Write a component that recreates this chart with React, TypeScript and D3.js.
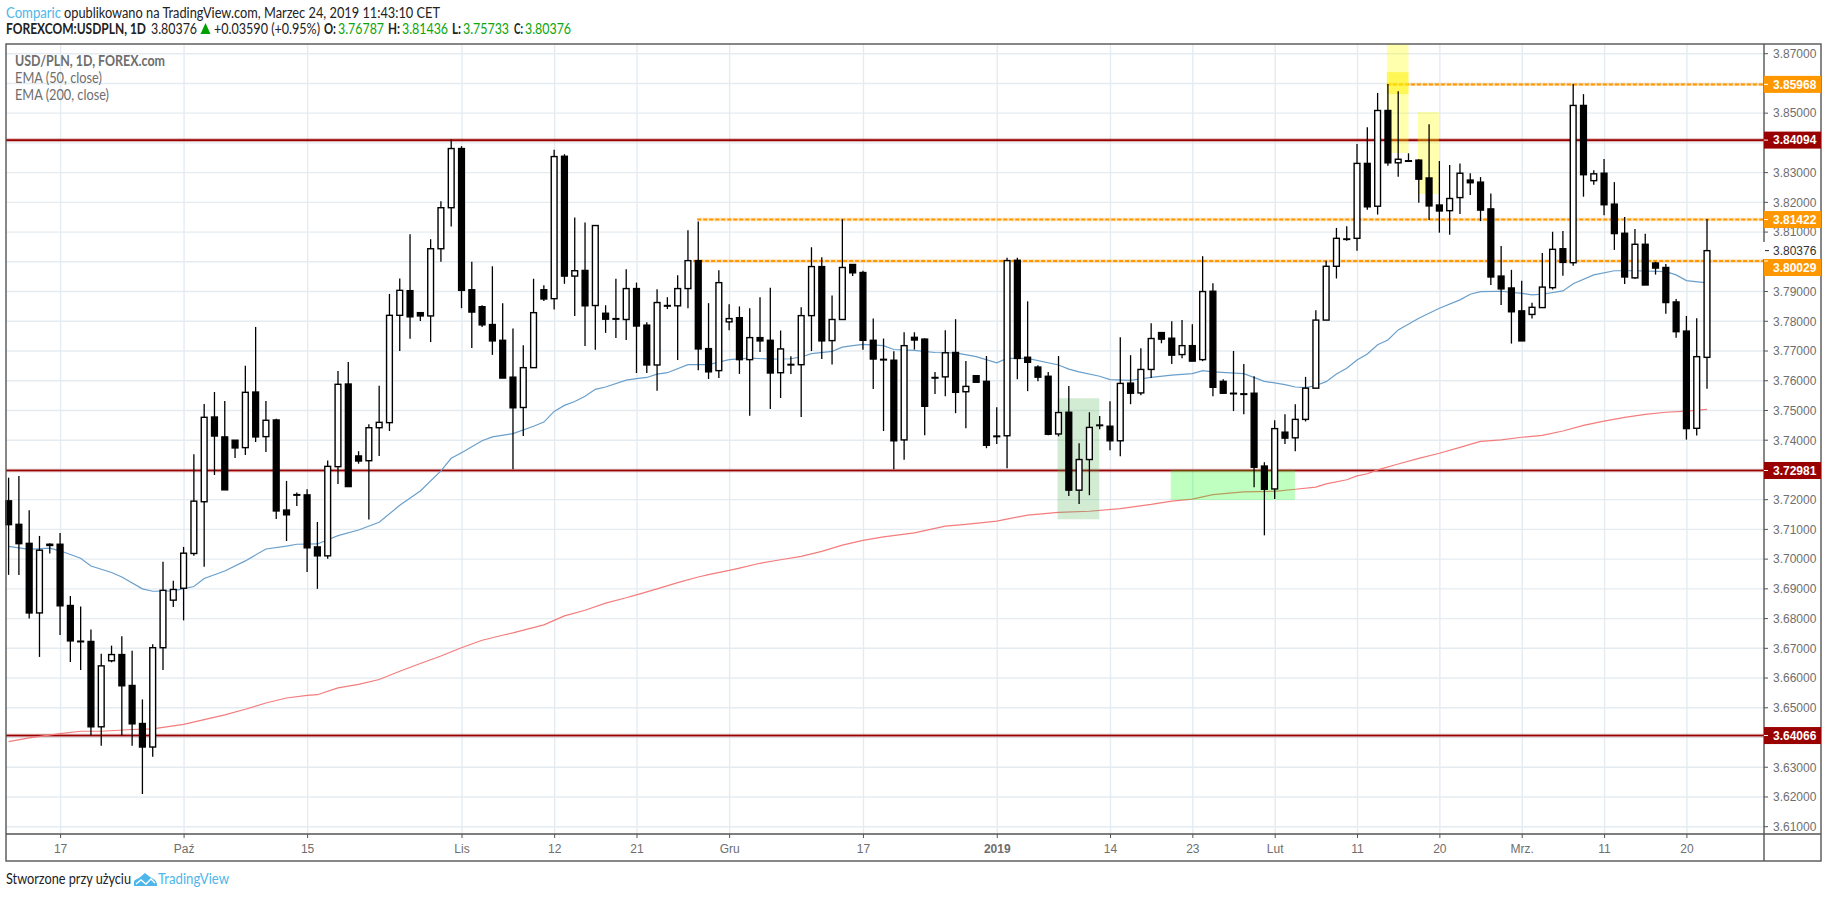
import React from "react";
import * as d3 from "d3";

// Daily USD/PLN candles
const opens = [3.7196,3.7117,3.7053,3.6819,3.7050,3.7050,3.6844,3.6724,3.6723,3.6436,3.6658,3.6679,3.6575,3.6447,3.6368,3.6702,3.6862,3.6902,3.7019,3.7193,3.7478,3.7411,3.7400,3.7375,3.7562,3.7412,3.7468,3.7165,3.7217,3.7216,3.7041,3.7011,3.7311,3.7589,3.7347,3.7331,3.7442,3.7459,3.7820,3.7903,3.7829,3.7818,3.8044,3.8182,3.8381,3.7906,3.7849,3.7789,3.7736,3.7612,3.7510,3.7644,3.7906,3.7876,3.8355,3.7952,3.7971,3.7853,3.7827,3.7809,3.7806,3.7910,3.7787,3.7653,3.7853,3.7852,3.7910,3.8004,3.7708,3.7634,3.7798,3.7812,3.7671,3.7745,3.7736,3.7627,3.7655,3.7654,3.7819,3.7984,3.7735,3.7806,3.7991,3.7964,3.7736,3.7672,3.7669,3.7401,3.7746,3.7740,3.7611,3.7613,3.7695,3.7563,3.7617,3.7598,3.7414,3.7415,3.8005,3.7679,3.7646,3.7615,3.7421,3.7494,3.7232,3.7335,3.7451,3.7447,3.7398,3.7592,3.7559,3.7638,3.7762,3.7743,3.7688,3.7718,3.7671,3.7901,3.7598,3.7558,3.7556,3.7558,3.7313,3.7236,3.7427,3.7408,3.7470,3.7575,3.7804,3.7985,3.8077,3.8079,3.8331,3.8187,3.8509,3.8333,3.8340,3.8342,3.8282,3.8191,3.8172,3.8216,3.8275,3.8268,3.8178,3.7952,3.7912,3.7835,3.7823,3.7846,3.7913,3.8044,3.7997,3.8526,3.8273,3.8298,3.8194,3.8096,3.7946,3.8059,3.7996,3.7981,3.7865,3.7767,3.7440,3.76787];
const highs = [3.7274,3.7280,3.7164,3.7078,3.7053,3.7088,3.6876,3.6841,3.6763,3.6682,3.6709,3.6741,3.6692,3.6528,3.6714,3.6991,3.6927,3.7041,3.7353,3.7522,3.7562,3.7532,3.7400,3.7650,3.7781,3.7532,3.7472,3.7263,3.7224,3.7235,3.7125,3.7332,3.7633,3.7663,3.7363,3.7454,3.7583,3.7892,3.7944,3.8093,3.7829,3.8076,3.8204,3.8411,3.8389,3.8000,3.7854,3.7985,3.7861,3.7776,3.7719,3.7943,3.7921,3.8377,3.8362,3.8149,3.8132,3.8122,3.7854,3.7943,3.7975,3.7930,3.7797,3.7908,3.7881,3.7955,3.8106,3.8136,3.7861,3.7972,3.7857,3.7850,3.7844,3.7881,3.7913,3.7769,3.7682,3.7847,3.8049,3.8015,3.7887,3.8143,3.7991,3.7970,3.7809,3.7742,3.7699,3.7763,3.7763,3.7743,3.7629,3.7770,3.7807,3.7666,3.7617,3.7683,3.7511,3.8014,3.8014,3.7867,3.7652,3.7629,3.7683,3.7582,3.7390,3.7494,3.7481,3.7531,3.7746,3.7686,3.7709,3.7793,3.7762,3.7800,3.7804,3.7790,3.8019,3.7928,3.7605,3.7700,3.7656,3.7615,3.7326,3.7467,3.7487,3.7521,3.7613,3.7837,3.8004,3.8114,3.8120,3.8396,3.8453,3.8568,3.8598,3.8574,3.8365,3.8345,3.8463,3.8339,3.8326,3.8331,3.8298,3.8285,3.8230,3.8053,3.7973,3.7936,3.7862,3.8030,3.8101,3.8104,3.8598,3.8564,3.8308,3.8346,3.8268,3.8151,3.8110,3.8094,3.8000,3.7993,3.7875,3.7818,3.7810,3.81436];
const lows = [3.6947,3.6947,3.6800,3.6671,3.7019,3.6745,3.6654,3.6627,3.6407,3.6372,3.6653,3.6407,3.6372,3.6210,3.6335,3.6627,3.6839,3.6794,3.7011,3.6974,3.7283,3.7233,3.7340,3.7350,3.7394,3.7360,3.7135,3.7061,3.7179,3.6957,3.6900,3.7001,3.7253,3.7244,3.7321,3.7133,3.7347,3.7431,3.7700,3.7741,3.7801,3.7730,3.8000,3.8119,3.7844,3.7710,3.7781,3.7687,3.7609,3.7302,3.7414,3.7644,3.7868,3.7840,3.7926,3.7818,3.7717,3.7704,3.7761,3.7744,3.7737,3.7626,3.7626,3.7566,3.7841,3.7670,3.7844,3.7635,3.7606,3.7609,3.7770,3.7623,3.7482,3.7697,3.7505,3.7542,3.7623,3.7478,3.7700,3.7673,3.7655,3.7806,3.7952,3.7704,3.7572,3.7431,3.7302,3.7334,3.7705,3.7417,3.7555,3.7548,3.7491,3.7440,3.7595,3.7373,3.7387,3.7306,3.7605,3.7565,3.7598,3.7417,3.7413,3.7212,3.7185,3.7215,3.7437,3.7366,3.7346,3.7521,3.7551,3.7609,3.7726,3.7656,3.7676,3.7666,3.7666,3.7548,3.7558,3.7498,3.7487,3.7242,3.7080,3.7202,3.7387,3.7363,3.7463,3.7575,3.7804,3.7944,3.8071,3.8037,3.8175,3.8159,3.8323,3.8286,3.8336,3.8199,3.8141,3.8098,3.8091,3.8161,3.8225,3.8137,3.7922,3.7855,3.7725,3.7734,3.7809,3.7846,3.7907,3.7953,3.7987,3.8219,3.8259,3.8157,3.8040,3.7925,3.7943,3.7922,3.7957,3.7825,3.7745,3.7402,3.7416,3.75733];
const closes = [3.7116,3.7052,3.6819,3.7030,3.7046,3.6843,3.6725,3.6722,3.6436,3.6641,3.6679,3.6574,3.6446,3.6368,3.6702,3.6895,3.6898,3.7020,3.7195,3.7477,3.7414,3.7233,3.7374,3.7561,3.7411,3.7467,3.7162,3.7149,3.7215,3.7038,3.7011,3.7312,3.7588,3.7244,3.7330,3.7442,3.7460,3.7820,3.7904,3.7815,3.7818,3.8044,3.8182,3.8381,3.7904,3.7831,3.7788,3.7734,3.7609,3.7509,3.7644,3.7829,3.7875,3.8354,3.7952,3.7970,3.7852,3.8122,3.7807,3.7807,3.7910,3.7784,3.7653,3.7863,3.7851,3.7910,3.8004,3.7707,3.7630,3.7930,3.7809,3.7671,3.7745,3.7734,3.7626,3.7707,3.7653,3.7819,3.7984,3.7734,3.7806,3.7981,3.7963,3.7736,3.7673,3.7670,3.7398,3.7718,3.7737,3.7514,3.7609,3.7694,3.7561,3.7581,3.7595,3.7383,3.7412,3.8004,3.7675,3.7662,3.7612,3.7420,3.7493,3.7232,3.7335,3.7443,3.7449,3.7398,3.7591,3.7558,3.7638,3.7742,3.7740,3.7686,3.7718,3.7666,3.7900,3.7578,3.7558,3.7556,3.7554,3.7309,3.7235,3.7439,3.7407,3.7470,3.7575,3.7804,3.7985,3.8079,3.8076,3.8331,3.8185,3.8509,3.8333,3.8345,3.8338,3.8278,3.8188,3.8171,3.8213,3.8298,3.8266,3.8174,3.7949,3.7909,3.7832,3.7734,3.7847,3.7915,3.8042,3.7998,3.8526,3.8293,3.8296,3.8192,3.8095,3.7949,3.8059,3.7922,3.7979,3.7863,3.7765,3.7439,3.7681,3.80376];

// EMA 50, sampled at the bars where it could be read
const ema50Bars = [0,2,4,5,7,8,10,11,13,14,16,18,19,21,23,25,27,28,30,32,34,36,38,40,42,43,44,46,47,49,51,52,53,54,55,56,57,58,60,61,62,63,64,66,68,70,72,74,76,77,78,80,81,82,83,85,86,88,90,92,94,96,97,99,102,103,104,106,107,109,111,113,115,116,117,120,122,124,125,126,127,128,129,130,131,132,133,134,135,137,139,141,142,143,145,147,148,149,151,152,154,156,158,161,162,163,165];
const ema50Vals = [3.7043,3.7033,3.7037,3.7028,3.7003,3.6977,3.6955,3.6940,3.6900,3.6892,3.6893,3.6908,3.6935,3.6960,3.6994,3.7034,3.7044,3.7050,3.7051,3.7079,3.7098,3.7124,3.7181,3.7229,3.7297,3.7339,3.7358,3.7398,3.7411,3.7422,3.7447,3.7461,3.7497,3.7517,3.7530,3.7548,3.7571,3.7579,3.7602,3.7607,3.7611,3.7622,3.7627,3.7654,3.7654,3.7671,3.7676,3.7673,3.7674,3.7680,3.7691,3.7699,3.7713,3.7718,3.7722,3.7718,3.7705,3.7702,3.7695,3.7694,3.7681,3.7660,3.7675,3.7675,3.7653,3.7639,3.7630,3.7615,3.7604,3.7601,3.7611,3.7619,3.7624,3.7634,3.7630,3.7624,3.7598,3.7587,3.7579,3.7577,3.7584,3.7597,3.7623,3.7642,3.7670,3.7690,3.7721,3.7737,3.7771,3.7810,3.7844,3.7872,3.7891,3.7900,3.7901,3.7894,3.7889,3.7891,3.7902,3.7926,3.7956,3.7970,3.7970,3.7967,3.7956,3.7937,3.7929];

// EMA 200, sampled the same way
const ema200Bars = [0,2,5,7,9,12,14,17,19,21,23,25,27,29,30,32,34,36,38,40,42,44,46,48,49,52,53,54,56,58,60,61,63,65,67,68,70,71,73,75,77,79,81,83,85,88,91,93,96,99,102,105,108,111,113,115,117,120,123,125,127,128,130,131,132,133,135,137,139,141,143,145,147,149,151,153,155,157,159,161,163,165];
const ema200Vals = [3.6386,3.6399,3.6413,3.6421,3.6421,3.6427,3.6429,3.6444,3.6460,3.6476,3.6495,3.6516,3.6533,3.6542,3.6544,3.6567,3.6579,3.6595,3.6623,3.6649,3.6674,3.6702,3.6727,3.6744,3.6752,3.6779,3.6794,3.6809,3.6828,3.6852,3.6870,3.6880,3.6900,3.6921,3.6940,3.6948,3.6962,3.6970,3.6986,3.6998,3.7009,3.7026,3.7047,3.7063,3.7075,3.7088,3.7111,3.7117,3.7128,3.7148,3.7157,3.7161,3.7170,3.7184,3.7195,3.7202,3.7217,3.7226,3.7228,3.7235,3.7242,3.7253,3.7267,3.7280,3.7287,3.7300,3.7320,3.7339,3.7356,3.7376,3.7396,3.7401,3.7410,3.7416,3.7431,3.7450,3.7464,3.7477,3.7487,3.7494,3.7498,3.7504];

const priceTicks = [3.61,3.62,3.63,3.64,3.65,3.66,3.67,3.68,3.69,3.70,3.71,3.72,3.73,3.74,3.75,3.76,3.77,3.78,3.79,3.80,3.81,3.82,3.83,3.84,3.85,3.86,3.87];
const hiddenTicks = [3.64,3.73,3.80,3.84,3.86];
const timeBars = [5,17,29,44,53,61,70,83,96,107,115,123,131,139,147,155,163];
const timeLabels = ["17","Paź","15","Lis","12","21","Gru","17","2019","14","23","Lut","11","20","Mrz.","11","20"];

const redLevels = [3.84094,3.72981,3.64066];
const orangeLevels = [3.85968,3.81422,3.80029];
const orangeStartBars = [133.9,66.9,66.5];
const lastClose = 3.80376;

const zoneBarsFrom = [101.9,112.9,133.9,133.9,136.9];
const zoneBarsTo = [105.96,124.96,136.0,136.0,138.95];
const zoneTop = [3.7541,3.7300,3.8733,3.8638,3.8504];
const zoneBottom = [3.7134,3.7199,3.8366,3.8564,3.8228];
const zoneFill = ["#4caf50","#00ff00","#ffff00","#fff000","#ffff00"];
const zoneAlpha = [0.25,0.25,0.32,0.5,0.32];

const AXIS = "'Liberation Sans', Arial, sans-serif";
const HEAD = "Lato, 'Noto Sans', sans-serif";
const GREEN = "#0aa50a";
const GRAY = "#6e6e6e";
const FRAME = "#555";
const SQUEEZE = 0.84;

// A header text squeezed horizontally to the width it has in the picture, as its condensed face does
function Fit(p: { x: number; to: number; y: number; t: string; bold?: boolean; fill?: string }) {
  return (
    <text transform={`translate(${p.x},${p.y}) scale(${SQUEEZE},1)`} textLength={(p.to - p.x) / SQUEEZE} lengthAdjust="spacingAndGlyphs"
      fontFamily={HEAD} fontSize={14.5} fontWeight={p.bold ? 700 : 400} fill={p.fill || "#222"}>{p.t}</text>
  );
}

export default function App() {
  const left = 6, top = 44, paneBottom = 834, bottom = 861, axisX = 1764, right = 1821;
  const x = d3.scaleLinear().domain([0, 165]).range([8.6, 1707]);
  const y = d3.scaleLinear().domain([3.87, 3.61]).range([53.7, 826.7]);
  const line = d3.line<[number, number]>().x((d) => x(d[0])).y((d) => y(d[1]));
  const ema50 = line(ema50Bars.map((b, i) => [b, ema50Vals[i]] as [number, number])) || "";
  const ema200 = line(ema200Bars.map((b, i) => [b, ema200Vals[i]] as [number, number])) || "";

  const tag = (p: number, yc: number, fill: string) => (
    <g key={p}>
      <rect x={axisX} y={yc - 8.5} width={right - axisX} height={17} fill={fill} />
      <line x1={axisX} x2={axisX + 4} y1={y(p)} y2={y(p)} stroke="#fff" strokeWidth={1} />
      <text x={1773} y={yc + 4.3} fontFamily={AXIS} fontSize={12} fontWeight={700} fill="#fff">{p.toFixed(5)}</text>
    </g>
  );

  return (
    <svg width={1828} height={898} style={{ position: "absolute", left: 0, top: 0, background: "#fff" }}>
      <Fit x={6} to={61} y={17.5} t="Comparic" fill="#4db6ea" />
      <Fit x={64} to={440} y={17.5} t="opublikowano na TradingView.com, Marzec 24, 2019 11:43:10 CET" />
      <Fit x={6} to={146} y={34} t="FOREXCOM:USDPLN, 1D" bold />
      <Fit x={151} to={197} y={34} t="3.80376" />
      <Fit x={214} to={320} y={34} t="+0.03590 (+0.95%)" />
      <Fit x={324} to={336} y={34} t="O:" bold />
      <Fit x={338} to={384} y={34} t="3.76787" fill={GREEN} />
      <Fit x={388} to={400} y={34} t="H:" bold />
      <Fit x={402} to={448} y={34} t="3.81436" fill={GREEN} />
      <Fit x={452} to={461} y={34} t="L:" bold />
      <Fit x={463} to={509} y={34} t="3.75733" fill={GREEN} />
      <Fit x={514} to={523} y={34} t="C:" bold />
      <Fit x={525} to={571} y={34} t="3.80376" fill={GREEN} />
      <polygon points="200.5,34 205.5,23 210.5,34" fill="#00a000" />

      {/* grid */}
      <g stroke="#e4ecf2" strokeWidth={1.4}>
        {priceTicks.map((p) => <line key={p} x1={left} x2={axisX} y1={y(p)} y2={y(p)} />)}
        {timeBars.map((b, i) => <line key={i} x1={x(b) + 0.5} x2={x(b) + 0.5} y1={top} y2={paneBottom} />)}
      </g>

      {/* legend */}
      <Fit x={15} to={165} y={66} t="USD/PLN, 1D, FOREX.com" bold fill={GRAY} />
      <Fit x={15} to={102} y={83} t="EMA (50, close)" fill={GRAY} />
      <Fit x={15} to={109} y={100} t="EMA (200, close)" fill={GRAY} />

      {/* horizontal levels */}
      {redLevels.map((p) => (
        <g key={p}>
          <line x1={left} x2={axisX} y1={y(p)} y2={y(p)} stroke="#990000" strokeOpacity={0.3} strokeWidth={3.6} />
          <line x1={left} x2={axisX} y1={y(p)} y2={y(p)} stroke="#990000" strokeWidth={1.6} />
        </g>
      ))}
      {orangeLevels.map((p, i) => (
        <g key={p}>
          <line x1={x(orangeStartBars[i])} x2={axisX} y1={y(p)} y2={y(p)} stroke="#ff9800" strokeOpacity={0.25} strokeWidth={3.4} />
          <line x1={x(orangeStartBars[i])} x2={axisX} y1={y(p)} y2={y(p)} stroke="#ff9800" strokeWidth={2} strokeDasharray="4 2" />
        </g>
      ))}

      {/* moving averages */}
      <path d={ema50} fill="none" stroke="#6a9fcb" strokeWidth={1.2} />
      <path d={ema200} fill="none" stroke="#f47c7c" strokeWidth={1.2} />

      {/* highlighted zones */}
      {zoneFill.map((f, i) => (
        <rect key={i} x={x(zoneBarsFrom[i])} width={x(zoneBarsTo[i]) - x(zoneBarsFrom[i])}
          y={Math.max(top, y(zoneTop[i]))} height={y(zoneBottom[i]) - Math.max(top, y(zoneTop[i]))}
          fill={f} fillOpacity={zoneAlpha[i]} />
      ))}

      {/* candles */}
      {opens.map((o, i) => {
        const c = closes[i];
        const up = c >= o;
        const yt = y(Math.max(o, c));
        const yb = y(Math.min(o, c));
        return (
          <g key={i}>
            <line x1={x(i)} x2={x(i)} y1={y(highs[i])} y2={y(lows[i])} stroke="#000" strokeWidth={1.3} />
            <rect x={x(i) - 2.9} width={5.8} y={yt} height={Math.max(yb - yt, 0.5)}
              fill={up ? "#fff" : "#000"} stroke="#000" strokeWidth={1.4} />
          </g>
        );
      })}

      {/* frame */}
      <rect x={left} y={top} width={right - left} height={bottom - top} fill="none" stroke={FRAME} strokeWidth={1.4} />
      <line x1={left} x2={right} y1={paneBottom} y2={paneBottom} stroke={FRAME} strokeWidth={1.4} />
      <line x1={axisX} x2={axisX} y1={top} y2={bottom} stroke={FRAME} strokeWidth={1.4} />

      {/* price axis */}
      <g fontFamily={AXIS} fontSize={12} fill={GRAY}>
        {priceTicks.filter((p) => !hiddenTicks.includes(p)).map((p) => (
          <g key={p}>
            <line x1={axisX} x2={axisX + 4} y1={y(p)} y2={y(p)} stroke={FRAME} />
            <text x={1773} y={y(p) + 4.3}>{p.toFixed(5)}</text>
          </g>
        ))}
      </g>
      <rect x={axisX - 1} y={242} width={right - axisX} height={17} fill="#fff" />
      <line x1={axisX + 1} x2={axisX + 5} y1={y(lastClose)} y2={y(lastClose)} stroke="#222" />
      <text x={1773} y={y(lastClose) + 4.3} fontFamily={AXIS} fontSize={12} fill="#333">{lastClose.toFixed(5)}</text>
      {tag(3.85968, y(3.85968), "#ff9800")}
      {tag(3.84094, y(3.84094), "#990000")}
      {tag(3.81422, y(3.81422), "#ff9800")}
      {tag(3.80029, 267.5, "#ff9800")}
      {tag(3.72981, y(3.72981), "#990000")}
      {tag(3.64066, y(3.64066), "#990000")}

      {/* time axis */}
      <g fontFamily={AXIS} fontSize={12} fill={GRAY} textAnchor="middle">
        {timeBars.map((b, i) => (
          <g key={i}>
            <line x1={x(b) + 0.5} x2={x(b) + 0.5} y1={paneBottom} y2={paneBottom + 4} stroke={FRAME} />
            <text x={x(b) + 0.5} y={853} fontWeight={timeLabels[i] === "2019" ? 700 : 400}>{timeLabels[i]}</text>
          </g>
        ))}
      </g>

      {/* footer */}
      <Fit x={6} to={131} y={884} t="Stworzone przy użyciu" />
      <path d="M134 886 L134 882 Q134 880 136 879.5 L139 878 L145 873 L150 877 L155 880 Q157 882 157 886 Z" fill="#4db6ea" />
      <polyline points="136,884 141,880 146,884 151,879 155,883" fill="none" stroke="#fff" strokeWidth={1.4} />
      <Fit x={158} to={229} y={884} t="TradingView" fill="#4db6ea" />
    </svg>
  );
}
